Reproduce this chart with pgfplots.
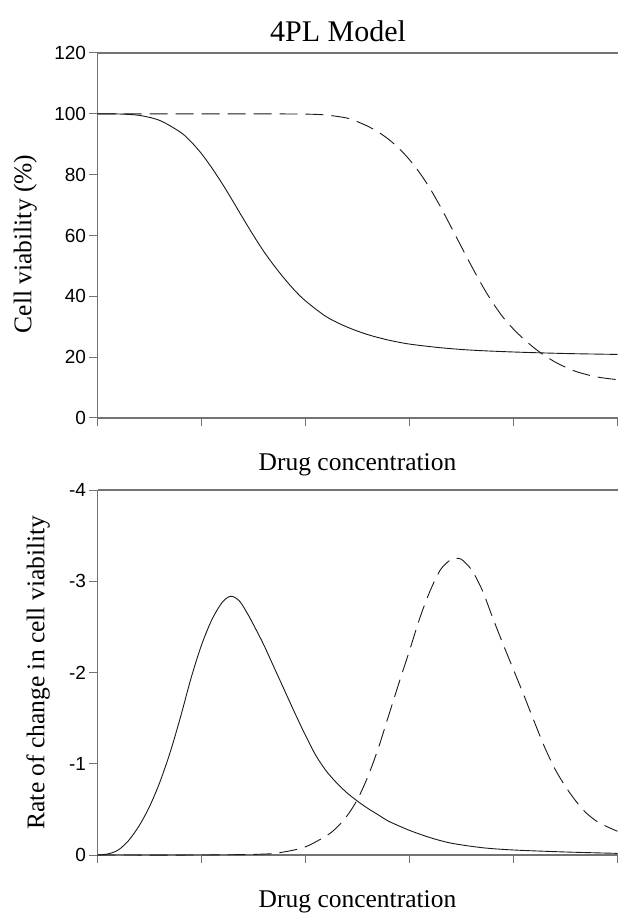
\documentclass[border=0pt]{standalone}
\usepackage{fontspec}
\setmainfont{Liberation Serif}
\newfontfamily\arial{Liberation Sans}
\usepackage{pgfplots}
\pgfplotsset{compat=1.18}

\definecolor{axisgray}{gray}{0.45}

\pgfplotsset{
  panel/.style={
    scale only axis, width=520pt, height=365pt,
    xmin=0, xmax=5, xtick={0,...,5}, xticklabels={},
    axis x line=box, axis y line=left,
    axis line style={-, axisgray, line width=1.2pt},
    tick style={axisgray, line width=1pt},
    major tick length=8pt, tick align=outside,
    xtick pos=lower, ytick pos=left,
    /pgf/number format/assume math mode=true,
    yticklabel style={font=\arial\fontsize{19}{21}\selectfont, text=black},
    label style={font=\fontsize{25.5}{30}\selectfont},
    xlabel style={at={(axis description cs:0.5,-0.145)}, anchor=base},
    clip=false,
  },
  solidcurve/.style={black!90, line width=0.9pt, smooth},
  dashcurve/.style={black!90, line width=0.9pt, smooth, dash pattern=on 18pt off 8pt},
}

\begin{document}
\begin{tikzpicture}[x=1pt,y=1pt]
\path[use as bounding box] (0,0) rectangle (618,918);
\node[anchor=base, font=\fontsize{30}{34}\selectfont] at (338,876) {4PL Model};

% upper panel: viability
\begin{axis}[panel, at={(97.5pt,500pt)}, anchor=south west,
    ymin=0, ymax=120, ytick={0,20,...,120},
    ylabel={Cell viability (\%)},
    ylabel style={at={(axis description cs:-0.139,0.477)}, anchor=center},
    xlabel={Drug concentration}]
\addplot[solidcurve] coordinates {
 (0,100) (0.2,99.95) (0.4,99.5) (0.6,97.8) (0.8,93.9) (0.9,90.8) (1.0,86.9)
 (1.1,82.2) (1.2,77.0) (1.3,71.4) (1.4,65.6) (1.5,60.0) (1.6,54.7) (1.7,50.0)
 (1.8,45.7) (1.9,41.8) (2.0,38.5) (2.2,33.3) (2.4,29.9) (2.6,27.4) (2.8,25.6)
 (3.0,24.3) (3.3,23.1) (3.6,22.3) (4.0,21.7) (4.5,21.2) (5.0,20.9)};
\addplot[dashcurve] coordinates {
 (0,100) (1,100) (1.5,100) (2.0,99.9) (2.2,99.6) (2.4,98.6) (2.5,97.4)
 (2.6,95.9) (2.7,94.0) (2.8,91.6) (2.9,88.6) (3.0,84.9) (3.1,80.5) (3.2,75.3)
 (3.3,69.3) (3.4,62.8) (3.5,56.2) (3.6,49.7) (3.7,43.5) (3.8,37.9) (3.9,33.1)
 (4.0,29.2) (4.1,25.9) (4.2,23.0) (4.3,20.5) (4.4,18.4) (4.5,16.7) (4.6,15.3)
 (4.7,14.3) (4.8,13.5) (4.9,13.0) (5.0,12.6)};
\end{axis}

% lower panel: rate of change
\begin{axis}[panel, at={(97.5pt,63pt)}, anchor=south west,
    ymin=-4, ymax=0, y dir=reverse, ytick={-4,-3,-2,-1,0},
    yticklabels={-4,-3,-2,-1,0},
    ylabel={Rate of change in cell viability},
    ylabel style={at={(axis description cs:-0.114,0.5)}, anchor=center},
    xlabel={Drug concentration}]
\addplot[solidcurve] coordinates {
 (0,0) (0.1,-0.012) (0.2,-0.055) (0.3,-0.16) (0.4,-0.32) (0.5,-0.53)
 (0.6,-0.80) (0.7,-1.13) (0.8,-1.52) (0.9,-1.94) (1.0,-2.30) (1.1,-2.58)
 (1.2,-2.77) (1.28,-2.835) (1.36,-2.79) (1.44,-2.65) (1.52,-2.48) (1.6,-2.30)
 (1.7,-2.05) (1.8,-1.80) (1.9,-1.55) (2.0,-1.31) (2.1,-1.09) (2.2,-0.92)
 (2.3,-0.79) (2.4,-0.68) (2.5,-0.59) (2.6,-0.51) (2.7,-0.44) (2.8,-0.37)
 (3.0,-0.27) (3.2,-0.19) (3.4,-0.13) (3.7,-0.08) (4.0,-0.055) (4.5,-0.033)
 (5.0,-0.018)};
\addplot[dashcurve] coordinates {
 (0,0) (1,0) (1.6,-0.01) (1.8,-0.035) (2.0,-0.09) (2.2,-0.21) (2.3,-0.30)
 (2.4,-0.43) (2.5,-0.61) (2.6,-0.86) (2.7,-1.17) (2.8,-1.53) (2.9,-1.89)
 (3.0,-2.24) (3.1,-2.60) (3.2,-2.90) (3.3,-3.13) (3.4,-3.24) (3.45,-3.25)
 (3.5,-3.24) (3.6,-3.12) (3.7,-2.90) (3.8,-2.60) (3.9,-2.31) (4.0,-2.03)
 (4.1,-1.75) (4.2,-1.46) (4.3,-1.18) (4.4,-0.94) (4.5,-0.75) (4.6,-0.59)
 (4.7,-0.46) (4.8,-0.37) (4.9,-0.31) (5.0,-0.26)};
\end{axis}
\end{tikzpicture}
\end{document}
